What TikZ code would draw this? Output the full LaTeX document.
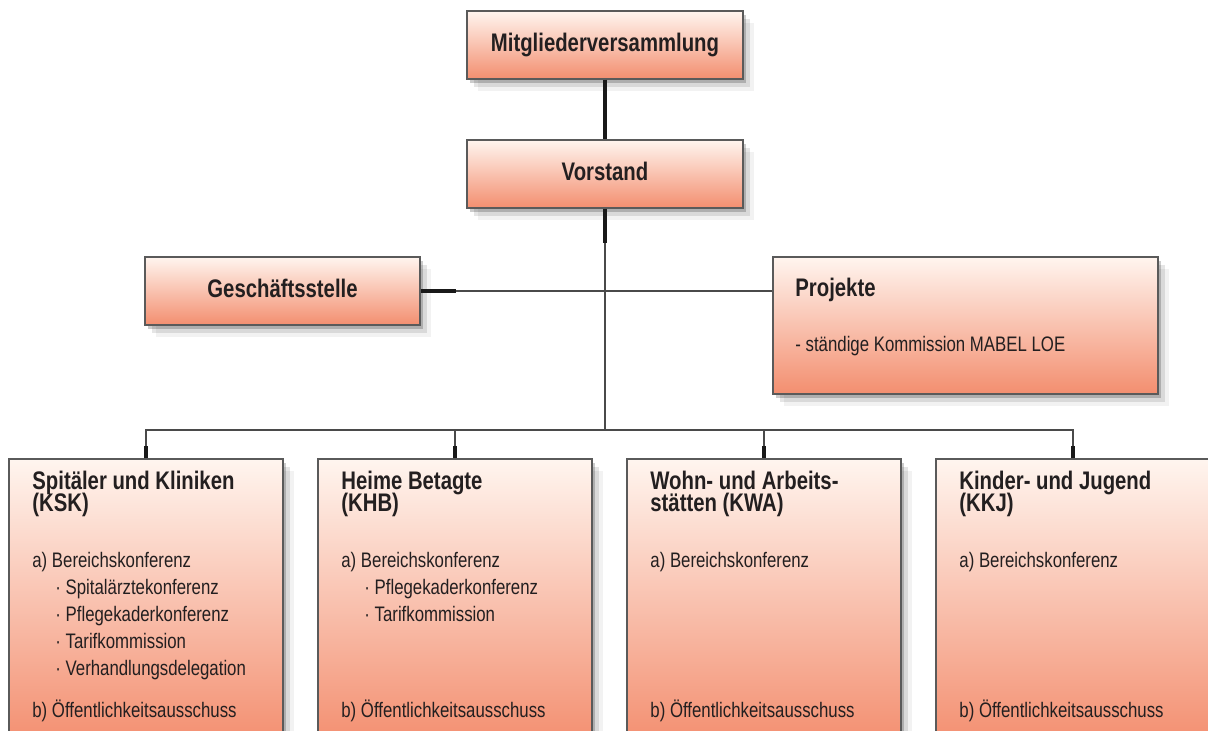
\documentclass[tikz,border=0pt]{standalone}
\usepackage{fontspec}
\setmainfont{Liberation Sans}[FakeStretch=0.8]
\usepackage{tikz}
\usetikzlibrary{positioning,calc,shadows}
\definecolor{BoxTop}{HTML}{FFF5EF}
\definecolor{BoxBottom}{HTML}{F38E6F}
\definecolor{FrameGray}{HTML}{5A5A5A}
\definecolor{InkDark}{HTML}{231F20}
\definecolor{LineGray}{HTML}{4A4A4A}
\newcommand\kopffont{\fontsize{12.7}{11}\selectfont\bfseries\lineskiplimit=-20pt}
\newcommand\zeilenfont{\fontsize{10.5}{13}\selectfont}

\begin{document}
\begin{tikzpicture}[x=0.5pt,y=-0.5pt,
  orgbox/.style={rectangle,draw=FrameGray,line width=0.6pt,top color=BoxTop,bottom color=BoxBottom,
    drop shadow={shadow xshift=1.5pt,shadow yshift=-2pt,opacity=.2,fill=black},
    drop shadow={shadow xshift=3.5pt,shadow yshift=-4pt,opacity=.1,fill=black},
    drop shadow={shadow xshift=5.5pt,shadow yshift=-6pt,opacity=.05,fill=black},
    text=InkDark,inner sep=0pt,font=\kopffont,text height=9.5pt,text depth=2.5pt},
  kopf/.style={font=\kopffont,text=InkDark,inner sep=0pt,anchor=base west},
  titel/.style={font=\kopffont,text=InkDark,inner sep=0pt,align=left,anchor=north west},
  zeile/.style={font=\zeilenfont,text=InkDark,inner sep=0pt,anchor=base west},
  dick/.style={line width=2pt,black!90},
  duenn/.style={line width=0.9pt,LineGray}]
\useasboundingbox (0,0) rectangle (1208,731);

% Leitung
\node[orgbox,minimum width=138pt,minimum height=34pt] (mv) at (605,45) {Mitgliederversammlung};
\node[orgbox,minimum width=138pt,minimum height=34pt] (vs) at (605,174) {Vorstand};

% Stab
\node[orgbox,minimum width=137.5pt,minimum height=34pt] (gs) at (282.5,291) {Geschäftsstelle};
\node[orgbox,minimum width=192.5pt,minimum height=68.5pt] (pj) at (965.5,325.5) {};
\node[kopf] (pjk) at (795,297) {Projekte};
\node[zeile] (pjz) at (795,352) {- ständige Kommission MABEL LOE};

% Bereiche
\foreach \i/\cx/\ta/\tb in {1/146/Spitäler und Kliniken/(KSK),2/455/Heime Betagte/(KHB),
    3/764/Wohn- und Arbeits-/stätten (KWA),4/1073/Kinder- und Jugend/(KKJ)} {
  \node[orgbox,minimum width=137pt,minimum height=143pt] (b\i) at (\cx,602) {};
  \node[titel] (b\i k) at (\cx-114,471) {\ta\\\tb};
  \node[zeile] (b\i a) at (\cx-114,567) {a) Bereichskonferenz};
  \node[zeile] (b\i b) at (\cx-114,717) {b) Öffentlichkeitsausschuss};
}
\node[zeile] (b1p1) at (55,594) {· Spitalärztekonferenz};
\node[zeile] (b1p2) at (55,621) {· Pflegekaderkonferenz};
\node[zeile] (b1p3) at (55,648) {· Tarifkommission};
\node[zeile] (b1p4) at (55,675) {· Verhandlungsdelegation};
\node[zeile] (b2p1) at (364,594) {· Pflegekaderkonferenz};
\node[zeile] (b2p2) at (364,621) {· Tarifkommission};

% Verbindungen
\coordinate (hub) at (605,430);
\draw[duenn] (vs.south) -- (hub);
\draw[duenn] (gs.east) -- (gs.east -| pj.west);
\draw[duenn] (b1.north) |- (hub) -| (b4.north);
\draw[duenn] (b2.north) |- (hub) (b3.north) |- (hub);
\draw[dick] (mv.south) -- (vs.north);
\draw[dick] (vs.south) -- ++(0,34);
\draw[dick] (gs.east) -- ++(35,0);
\foreach \i in {1,...,4}
  \draw[dick] (b\i.north) -- ++(0,-12);
\end{tikzpicture}
\end{document}
